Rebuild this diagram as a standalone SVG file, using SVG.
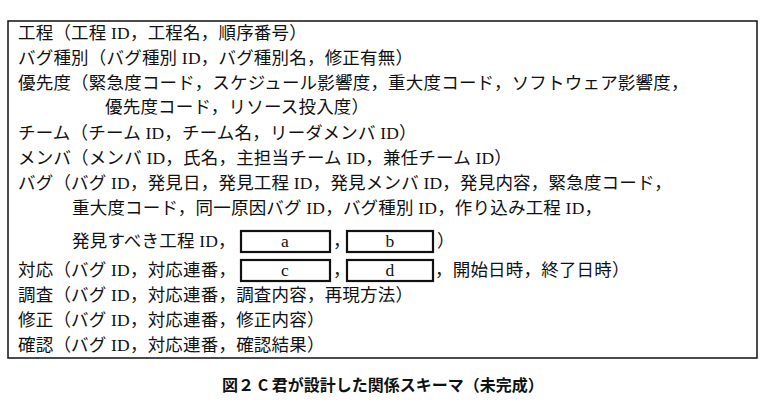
<svg xmlns="http://www.w3.org/2000/svg" width="765" height="415" viewBox="0 0 765 415">
<style>
text{font-family:"Liberation Serif","Noto Sans CJK JP",serif;font-size:17.5px;fill:#111;letter-spacing:0.2px}
.box{fill:#fff;stroke:#111;stroke-width:2.2}
.cap{font-family:"Noto Sans CJK JP",sans-serif;font-size:16px;font-weight:bold;letter-spacing:0}
.c{text-anchor:middle}
</style>
<rect x="8" y="21" width="749" height="337" fill="#fff" stroke="#111" stroke-width="1.5"/>
<g id="schema">
<text x="18" y="39">工程（工程 ID，工程名，順序番号）</text>
<text x="18" y="64">バグ種別（バグ種別 ID，バグ種別名，修正有無）</text>
<text x="18" y="89">優先度（緊急度コード，スケジュール影響度，重大度コード，ソフトウェア影響度，</text>
<text x="105" y="113">優先度コード，リソース投入度）</text>
<text x="18" y="139">チーム（チーム ID，チーム名，リーダメンバ ID）</text>
<text x="18" y="164">メンバ（メンバ ID，氏名，主担当チーム ID，兼任チーム ID）</text>
<text x="18" y="189">バグ（バグ ID，発見日，発見工程 ID，発見メンバ ID，発見内容，緊急度コード，</text>
<text x="72" y="214">重大度コード，同一原因バグ ID，バグ種別 ID，作り込み工程 ID，</text>
<text x="72" y="247">発見すべき工程 ID，</text>
<text x="333" y="247">，</text>
<text x="437" y="247">）</text>
<text x="18" y="276">対応（バグ ID，対応連番，</text>
<text x="333" y="276">，</text>
<text x="435" y="276">，開始日時，終了日時）</text>
<text x="18" y="301">調査（バグ ID，対応連番，調査内容，再現方法）</text>
<text x="18" y="326">修正（バグ ID，対応連番，修正内容）</text>
<text x="18" y="351">確認（バグ ID，対応連番，確認結果）</text>
</g>
<g id="a"><rect class="box" x="241" y="231" width="89" height="21"/><text class="c" x="285" y="247">a</text></g>
<g id="b"><rect class="box" x="347" y="231" width="86" height="21"/><text class="c" x="390" y="247">b</text></g>
<g id="c"><rect class="box" x="241" y="260" width="89" height="21"/><text class="c" x="285" y="276">c</text></g>
<g id="d"><rect class="box" x="347" y="260" width="86" height="21"/><text class="c" x="390" y="276">d</text></g>
<g id="connectors"></g>
<text class="cap c" x="383" y="391">図２ C 君が設計した関係スキーマ（未完成）</text>
</svg>
